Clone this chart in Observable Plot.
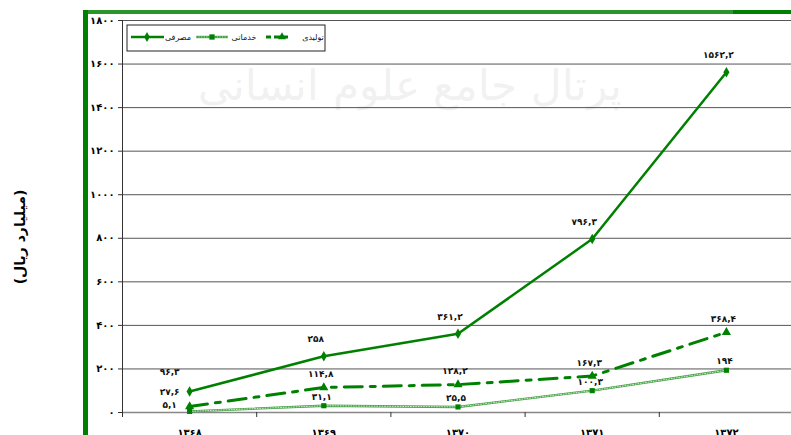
<!DOCTYPE html>
<html>
<head>
<meta charset="utf-8">
<script src="https://cdn.jsdelivr.net/npm/d3@7"></script>
<script src="https://cdn.jsdelivr.net/npm/@observablehq/plot@0.6"></script>
<style>
  html, body { margin: 0; padding: 0; background: #fff; }
  svg { display: block; }
</style>
</head>
<body>
<div id="chart"></div>
<script>
// ---- data ----
const years = [1368, 1369, 1370, 1371, 1372];
const consumption = [96.3, 258, 361.2, 796.3, 1562.2];   // مصرفی
const services = [5.1, 31.1, 25.5, 100.3, 194];          // خدماتی
const production = [27.6, 114.8, 128.2, 167.3, 368.4];   // تولیدی
const seriesNames = ["مصرفی", "خدماتی", "تولیدی"];
const yTicks = [0, 200, 400, 600, 800, 1000, 1200, 1400, 1600, 1800];
const yTitle = "(میلیارد ریال)";

const fa = v => String(v).replace(/\d/g, d => "۰۱۲۳۴۵۶۷۸۹"[d]).replace(".", ",");

const series = [
  {name: seriesNames[0], values: consumption, stroke: "#008000", width: 2.5, dash: null, symbol: "diamond", r: 3.2, fill: "#008000", ldx: -8, ldy: -17, firstDy: -19},
  {name: seriesNames[1], values: services, stroke: "#3f9f3f", width: 2.4, dash: null, dots: true, symbol: "square", r: 2.9, fill: "#008000", ldx: -2, ldy: -9, firstDy: -6},
  {name: seriesNames[2], values: production, stroke: "#008000", width: 3, dash: "18,8,5,8", symbol: "triangle", r: 3.4, fill: "#008000", ldx: -3, ldy: -13, firstDy: -14}
];
const rowsOf = s => years.map((y, i) => ({year: y, value: s.values[i], label: fa(s.values[i])}));

const marks = [
  Plot.gridY(yTicks, {stroke: "#555", strokeOpacity: 1, strokeWidth: 1}),
  Plot.ruleY([0], {stroke: "#888", strokeWidth: 1.5}),
  Plot.axisY(yTicks, {tickFormat: fa, tickSize: 4, tickPadding: 4, fontWeight: "bold", fontSize: 10, label: null, stroke: "#333"}),
  Plot.axisX(d3.range(years[0] - 0.5, years[years.length - 1] + 1, 1), {tickFormat: () => "", tickSize: 5, stroke: "#333", label: null}),
  Plot.axisX(years, {tickFormat: fa, tickSize: 0, tickPadding: 16, fontWeight: "bold", fontSize: 10, label: null})
];
for (const s of series) {
  const rows = rowsOf(s);
  marks.push(Plot.line(rows, {x: "year", y: "value", stroke: s.stroke, strokeWidth: s.width, strokeDasharray: s.dash}));
  if (s.dots) marks.push(Plot.line(rows, {x: "year", y: "value", stroke: "#dff0df", strokeWidth: 0.9, strokeDasharray: "1,1.6"}));
}
marks.push(Plot.ruleX([years[0] - 0.5], {y1: 0, y2: 1800, stroke: "#333", strokeWidth: 1}));
for (const s of series) {
  const rows = rowsOf(s);
  marks.push(Plot.dot(rows, {x: "year", y: "value", symbol: () => s.symbol, r: s.r, fill: s.fill, stroke: "none"}));
  marks.push(Plot.text(rows.filter(d => d.year !== years[0]), {x: "year", y: "value", text: "label", dx: s.ldx, dy: s.ldy, fontWeight: "bold", fontSize: 9, fill: "#111"}));
  marks.push(Plot.text(rows.filter(d => d.year === years[0]), {x: "year", y: "value", text: "label", dx: -20, dy: s.firstDy, fontWeight: "bold", fontSize: 9, fill: "#111"}));
}

const svg = Plot.plot({
  width: 791,
  height: 435,
  marginLeft: 122,
  marginRight: -2,
  marginTop: 20,
  marginBottom: 23,
  style: {fontFamily: "DejaVu Sans", background: "#fff", overflow: "visible"},
  x: {type: "linear", domain: [years[0] - 0.5, years[years.length - 1] + 0.5]},
  y: {domain: [0, 1800]},
  marks
});
document.getElementById("chart").appendChild(svg);

// ---- decorations: frame, watermark, title, legend ----
const g = d3.select(svg);
g.insert("text", ":first-child")
  .attr("x", 410).attr("y", 100).attr("text-anchor", "middle")
  .attr("font-family", "DejaVu Serif").attr("font-size", 42)
  .attr("fill", "#000").attr("opacity", 0.05)
  .text("پرتال جامع علوم انسانی");
g.append("rect").attr("x", 83).attr("y", 10).attr("width", 650).attr("height", 4).attr("fill", "#2a962a");
g.append("rect").attr("x", 733).attr("y", 10).attr("width", 58).attr("height", 4).attr("fill", "#008000");
g.append("rect").attr("x", 83).attr("y", 10).attr("width", 5).attr("height", 425).attr("fill", "#008000");

g.append("text")
  .attr("transform", "translate(25,237) rotate(-90)")
  .attr("text-anchor", "middle")
  .attr("font-family", "DejaVu Sans").attr("font-weight", "bold").attr("font-size", 14)
  .attr("fill", "#000")
  .text(yTitle);

const lg = g.append("g");
lg.append("rect").attr("x", 127).attr("y", 25).attr("width", 198).attr("height", 26)
  .attr("fill", "#fff").attr("stroke", "#222").attr("stroke-width", 1);
const legendPos = [{x0: 131, x1: 164, mx: 147, tx: 178}, {x0: 196, x1: 228, mx: 212, tx: 244}, {x0: 266, x1: 290, mx: 282, tx: 313}];
series.forEach((s, i) => {
  const p = legendPos[i];
  lg.append("line").attr("x1", p.x0).attr("x2", p.x1).attr("y1", 37).attr("y2", 37)
    .attr("stroke", s.stroke).attr("stroke-width", s.width)
    .attr("stroke-dasharray", i === 2 ? "5,3,14,3" : s.dash);
  if (s.dots) lg.append("line").attr("x1", p.x0).attr("x2", p.x1).attr("y1", 37).attr("y2", 37)
    .attr("stroke", "#dff0df").attr("stroke-width", 0.9).attr("stroke-dasharray", "1,1.6");
  lg.append("path").attr("transform", `translate(${p.mx},37)`)
    .attr("d", d3.symbol(s.symbol === "diamond" ? d3.symbolDiamond : s.symbol === "square" ? d3.symbolSquare : d3.symbolTriangle, 28)())
    .attr("fill", s.fill);
  lg.append("text").attr("x", p.tx).attr("y", 40).attr("text-anchor", "middle")
    .attr("font-family", "DejaVu Sans").attr("font-size", 8).attr("fill", "#111")
    .text(s.name);
});
</script>
</body>
</html>
